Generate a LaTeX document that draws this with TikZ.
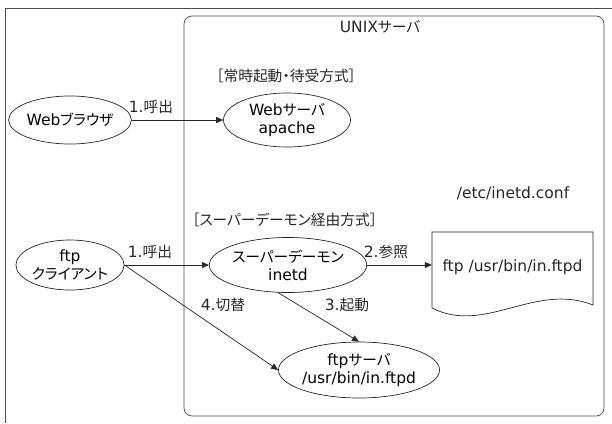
\documentclass[tikz,border=0pt]{standalone}
\usepackage{fontspec}
\setmainfont{DejaVu Sans}
\newfontfamily\jpf[Scale=0.95,RawFeature=+palt]{Noto Sans CJK JP}
\newcommand{\jp}[1]{{\jpf #1}}
\usetikzlibrary{arrows.meta,shapes.geometric}
\tikzset{
  ell/.style={draw=black!85, ellipse, inner sep=0pt, align=center, line width=0.7pt},
  lbl/.style={inner sep=0pt, text=black!85},
  arr/.style={draw=black!85, -{Triangle[length=7pt,width=6pt]}, line width=0.7pt},
  frame/.style={draw=black!70, line width=0.7pt},
}
\begin{document}
\begin{tikzpicture}[x=1pt,y=-1pt,font=\fontsize{15.5}{18}\selectfont]
\useasboundingbox (0,0) rectangle (612,423);
% outer frame (cut off at right and bottom)
\draw[frame] (5,423) -- (5,8) -- (612,8);
% server box
\node[frame, rounded corners=8pt, minimum width=420pt, minimum height=400pt, inner sep=0pt] (srv) at (394,216) {};
\node[lbl] (title) at (380,27) {UNIX\jp{サーバ}};
\node[lbl, anchor=west] (mode1) at (216,76) {\jp{［常時起動・待受方式］}};
\node[lbl, anchor=west] (mode2) at (192,220) {\jp{［スーパーデーモン経由方式］}};
\node[lbl] (conf) at (513,193) {/etc/inetd.conf};
% ellipses
\node[ell, minimum width=106pt, minimum height=48pt] (wb) at (70,120) {Web\jp{ブラウザ}};
\node[ell, minimum width=127pt, minimum height=54pt] (ws) at (287,120) {Web\jp{サーバ}\\apache};
\node[ell, minimum width=106pt, minimum height=50pt] (fc) at (70,265) {ftp\\\jp{クライアント}};
\node[ell, minimum width=127pt, minimum height=55pt] (inetd) at (288,265) {\jp{スーパーデーモン}\\inetd};
\node[ell, minimum width=145pt, minimum height=56pt] (fs) at (359,370) {ftp\jp{サーバ}\\/usr/bin/in.ftpd};
% document
\node[lbl, minimum width=161pt] (doc) at (512.5,267) {ftp /usr/bin/in.ftpd};
\draw[frame, draw=black!85] (432,308) -- (432,232) -- (593,232) -- (593,305)
  .. controls (535,282) and (485,335) .. (432,308);
% connectors
\draw[arr] (wb.east) -- (wb.east -| ws.west);
\draw[arr] (fc.east) -- (fc.east -| inetd.west);
\draw[arr] (inetd.east) -- (inetd.east -| doc.west);
\draw[arr] (inetd.250) -- (fs.north);
\draw[arr] (fc.east) -- (fs.west);
% labels
\node[lbl] (l1) at (151,107) {1.\jp{呼出}};
\node[lbl] (l2) at (150,252) {1.\jp{呼出}};
\node[lbl] (l3) at (386,252) {2.\jp{参照}};
\node[lbl] (l4) at (347,305) {3.\jp{起動}};
\node[lbl] (l5) at (223,305) {4.\jp{切替}};
\end{tikzpicture}
\end{document}
